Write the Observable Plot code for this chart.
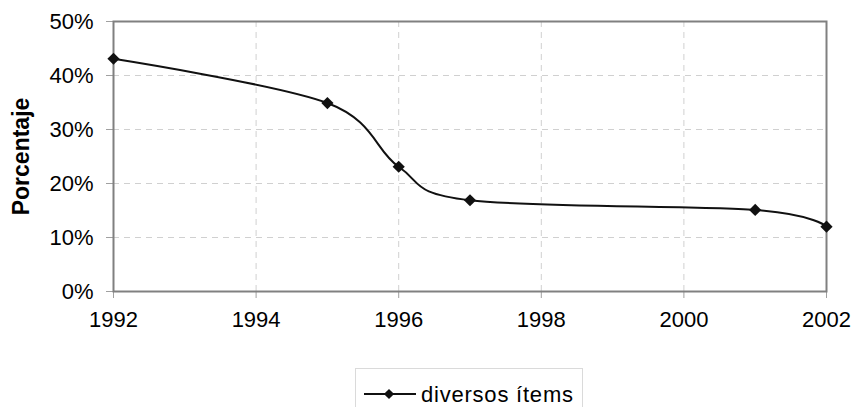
<!DOCTYPE html>
<html>
<head>
<meta charset="utf-8">
<script src="https://cdn.jsdelivr.net/npm/d3@7"></script>
<script src="https://cdn.jsdelivr.net/npm/@observablehq/plot@0.6"></script>
<style>
  html, body { margin: 0; padding: 0; background: #fff; }
  body { width: 853px; height: 407px; overflow: hidden; font-family: "Liberation Sans", Arial, sans-serif; }
  #legend { position: absolute; left: 355px; top: 368px; width: 228px; height: 50px; border: 1px solid #dadada; box-sizing: border-box; }
  #legend svg { position: absolute; left: 0; top: 0; }
</style>
</head>
<body>
<div id="chart"></div>
<div id="legend"></div>
<script>
const years = [1992, 1995, 1996, 1997, 2001, 2002];
const values = [43.1, 34.9, 23.1, 16.9, 15.1, 12.0];
const seriesName = "diversos ítems";
const xTicks = [1992, 1994, 1996, 1998, 2000, 2002];
const yTicks = [0, 10, 20, 30, 40, 50];

const data = years.map((y, i) => ({year: y, value: values[i]}));

const chart = Plot.plot({
  width: 853,
  height: 368,
  marginLeft: 113,
  marginRight: 27,
  marginTop: 21,
  marginBottom: 77,
  style: {fontFamily: "Liberation Sans, Arial, sans-serif", fontSize: "22px", color: "#000", background: "#fff"},
  x: {domain: [1992, 2002]},
  y: {domain: [0, 50]},
  marks: [
    Plot.gridY([10, 20, 30, 40], {stroke: "#d0d0d0", strokeOpacity: 1, strokeDasharray: "6,5", strokeWidth: 1}),
    Plot.gridX([1994, 1996, 1998, 2000], {stroke: "#d0d0d0", strokeOpacity: 1, strokeDasharray: "6,5", strokeWidth: 1}),
    Plot.axisY(yTicks, {tickFormat: d => d + "%", tickSize: 7, tickPadding: 13, stroke: "#a0a0a0", fontSize: 22,
      label: "Porcentaje", labelAnchor: "center", labelArrow: "none", labelOffset: 101}),
    Plot.axisX(xTicks, {tickFormat: d => String(d), tickSize: 7, tickPadding: 13, stroke: "#a0a0a0", fontSize: 22, label: null}),
    Plot.frame({stroke: "#808080", strokeWidth: 2}),
    Plot.line(data, {x: "year", y: "value", curve: "cardinal", stroke: "#111", strokeWidth: 2}),
    Plot.dot(data, {x: "year", y: "value", symbol: "diamond2", r: 5.5, fill: "#111", stroke: "none"})
  ]
});
document.getElementById("chart").appendChild(chart);
// bold axis label
d3.select(chart).selectAll("[aria-label='y-axis label'] text").attr("font-weight", "bold").attr("font-size", 23);

// legend
const lg = d3.select("#legend").append("svg").attr("width", 228).attr("height", 50);
lg.append("line").attr("x1", 8).attr("x2", 60).attr("y1", 25).attr("y2", 25).attr("stroke", "#111").attr("stroke-width", 2);
lg.append("path").attr("d", d3.symbol(d3.symbolDiamond2, Math.PI * 4.6 * 4.6)()).attr("transform", "translate(33,25)").attr("fill", "#111");
lg.append("text").attr("x", 65).attr("y", 25).attr("dy", "0.35em").attr("font-size", 22)
  .attr("font-family", "Liberation Sans, Arial, sans-serif").attr("textLength", 152).text(seriesName);
</script>
</body>
</html>
